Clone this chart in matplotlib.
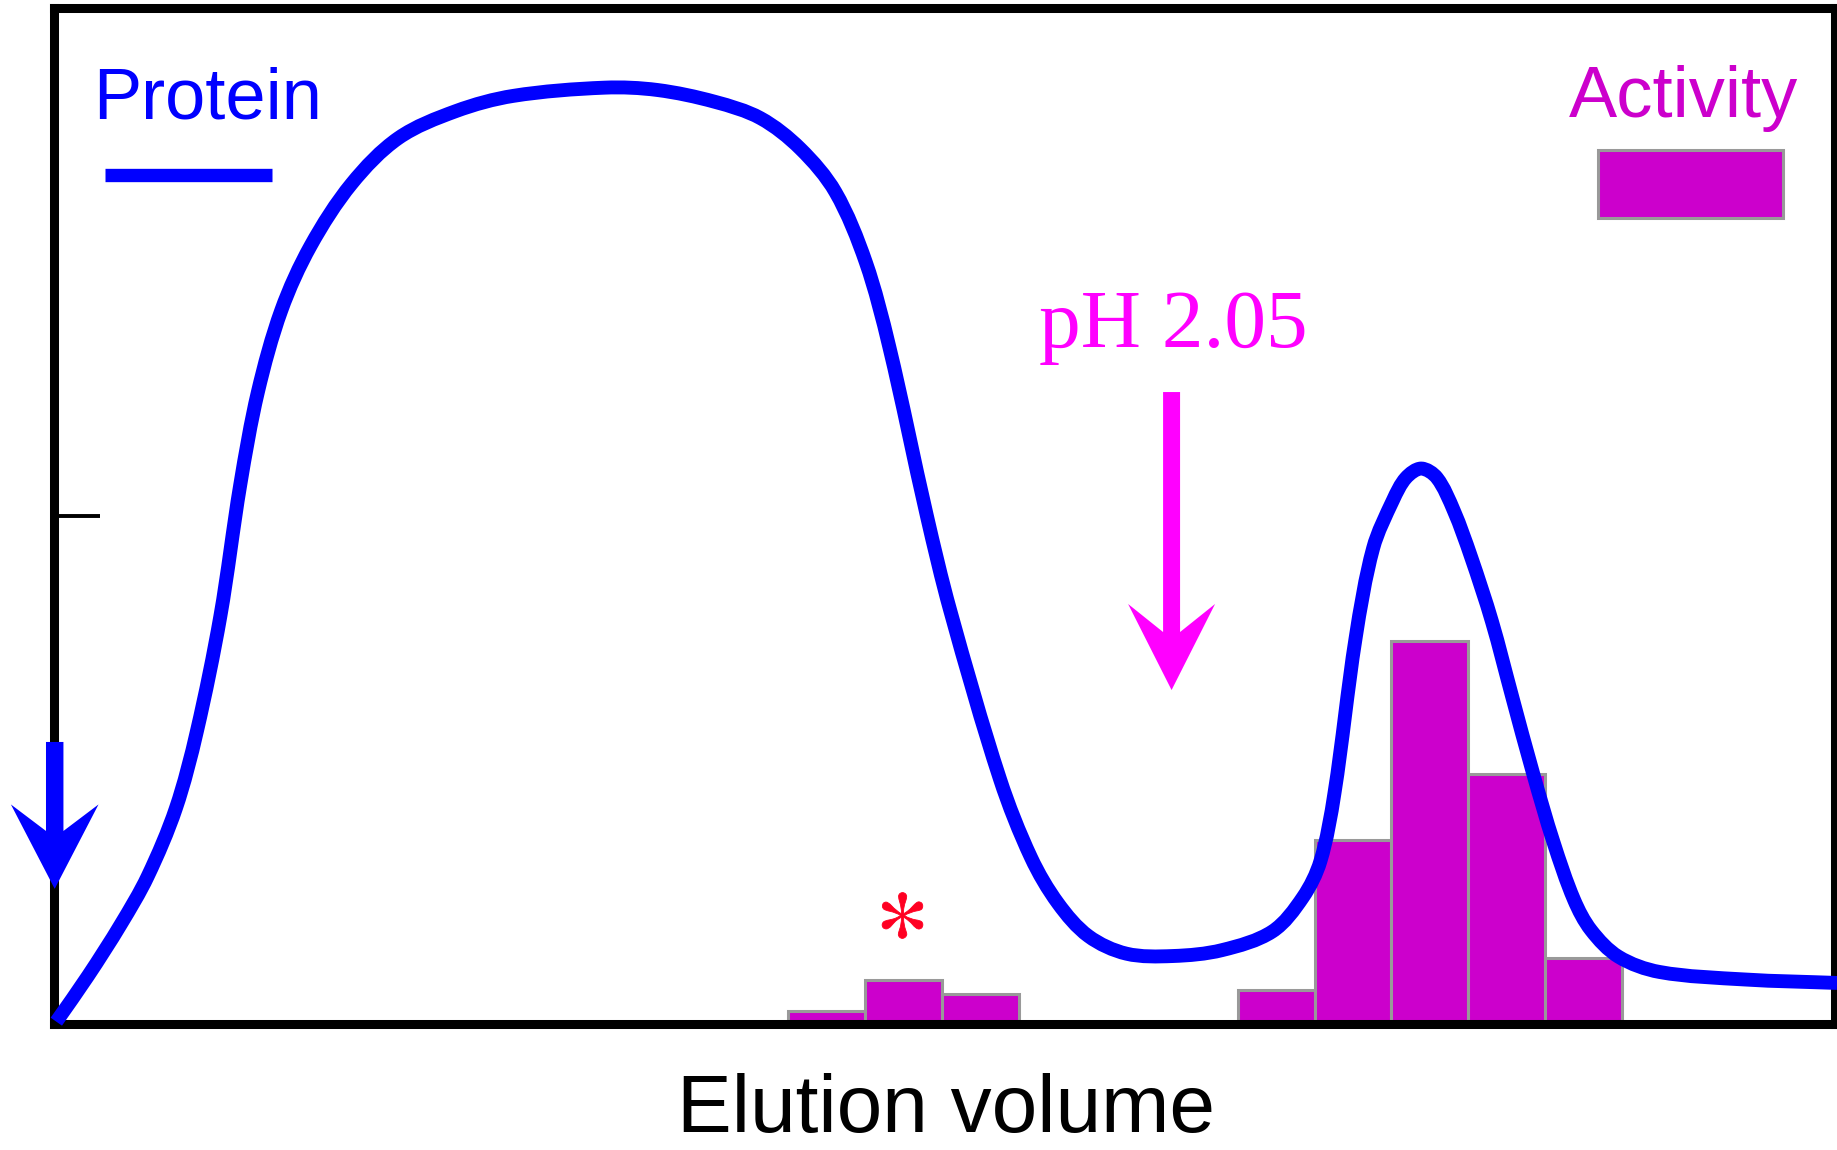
import matplotlib
matplotlib.use("Agg")
import numpy as np
import matplotlib.pyplot as plt
from matplotlib.patches import Polygon, Rectangle, PathPatch
from matplotlib.path import Path
from matplotlib.lines import Line2D

plt.rcParams['font.family'] = ['Liberation Sans', 'DejaVu Sans']
plt.rcParams['mathtext.fontset'] = 'stix'

# ---------------- data ----------------
# Protein elution profile (x: fraction units, y: relative absorbance)
protein_x = [0.03, 0.443, 0.870, 1.221, 1.588, 1.863, 2.168, 2.427, 2.656, 2.962,
             3.344, 3.878, 4.489, 5.237, 5.985, 7.176, 7.863, 8.611, 9.206, 9.725,
             10.183, 10.580, 10.885, 11.374, 11.679, 12.328, 12.733, 13.084, 13.481,
             13.977, 14.580, 15.221, 15.878, 16.275, 16.504, 16.687, 16.962, 17.191,
             17.450, 17.618, 17.817, 18.023, 18.244, 18.466, 18.740, 19.000, 19.275,
             19.542, 19.809, 20.031, 20.389, 20.924, 22.038, 23.237]
protein_y = [0.23, 4.73, 9.80, 14.53, 21.22, 28.84, 40.14, 53.06, 62.17, 70.24,
             76.59, 82.70, 87.20, 89.85, 91.35, 92.16, 91.93, 90.77, 89.16, 86.16,
             81.89, 74.97, 66.67, 50.06, 40.72, 24.11, 16.38, 11.88, 8.65,
             6.92, 6.69, 7.27, 9.11, 12.46, 16.03, 22.72, 37.95, 46.83,
             51.56, 53.75, 54.67, 53.75, 50.50, 46.00, 39.60, 32.30, 24.68,
             17.88, 12.23, 9.23, 6.62, 5.12, 4.38, 4.04]

# Activity per fraction
activity_x = [10.07, 11.07, 12.07, 15.93, 16.93, 17.93, 18.93, 19.93]
activity_h = [1.27, 4.33, 2.93, 3.34, 18.1, 37.7, 24.6, 6.46]

y_tick_values = [50]
asterisk_pos = (11.05, 10.7)

xlabel_text = "Elution volume"
protein_label = "Protein"
activity_label = "Activity"
ph_label = "pH 2.05"

# ---------------- styles ----------------
BLUE = '#0000FF'
BAR = '#CC00CC'
PH = '#FF00FF'
RED = '#FF0022'

W, H = 1837, 1150
fig = plt.figure(figsize=(W / 100, H / 100), dpi=100)
ax_rect = [54 / W, 1 - 1024 / H, (1835 - 54) / W, (1024 - 8) / H]
ax = fig.add_axes(ax_rect)
XMAX, YMAX = 23.21, 100
ax.set_xlim(0, XMAX)
ax.set_ylim(0, YMAX)

ax.bar(activity_x, activity_h, width=1.0, color=BAR, edgecolor='#999999',
       linewidth=2.2, zorder=2)


def smooth_path(xs, ys):
    """Chord-length Hermite (Catmull-Rom style) path through the given points."""
    P = np.column_stack([xs, ys]).astype(float)
    sx = ax_rect[2] * W / XMAX
    sy = ax_rect[3] * H / YMAX
    Q = P * [sx, sy]
    d = np.hypot(*np.diff(Q, axis=0).T)
    t = np.concatenate([[0], np.cumsum(d)])
    n = len(P)
    M = np.zeros_like(P)
    for i in range(n):
        a = max(i - 1, 0)
        b = min(i + 1, n - 1)
        M[i] = (P[b] - P[a]) / (t[b] - t[a])
    verts = [P[0]]
    codes = [Path.MOVETO]
    for i in range(n - 1):
        h = t[i + 1] - t[i]
        verts += [P[i] + M[i] * h / 3, P[i + 1] - M[i + 1] * h / 3, P[i + 1]]
        codes += [Path.CURVE4] * 3
    return Path(verts, codes)


ax.add_patch(PathPatch(smooth_path(protein_x, protein_y), facecolor='none',
                       edgecolor=BLUE, lw=10, joinstyle='round', capstyle='butt',
                       zorder=4, clip_on=False))

for s in ax.spines.values():
    s.set_linewidth(6.5)
    s.set_color('black')
ax.set_xticks([])
ax.set_yticks(y_tick_values)
ax.set_yticklabels([])
ax.set_yticks(y_tick_values, minor=True)
ax.tick_params(axis='y', which='major', direction='in', length=33, width=2.8, color='black')
ax.tick_params(axis='y', which='minor', direction='out', length=7, width=2.8, color='black',
               labelleft=False)

# asterisk
ax.plot([asterisk_pos[0]], [asterisk_pos[1]], marker=r'$*$', markersize=33,
        color=RED, markeredgewidth=0.6, markeredgecolor=RED, linestyle='none', zorder=5)


def down_arrow(xc, y_top, y_wing, y_join, y_tip, hs, hw, color):
    pts = [(xc - hs, y_top), (xc + hs, y_top), (xc + hs, y_join), (xc + hw, y_wing),
           (xc, y_tip), (xc - hw, y_wing), (xc - hs, y_join)]
    ax.add_patch(Polygon(pts, closed=True, facecolor=color, edgecolor='none',
                         transform=ax.transAxes, clip_on=False, zorder=6))


# pH arrow
down_arrow(0.6275, 0.6220, 0.4134, 0.3858, 0.3287, 0.00477, 0.02442, PH)
# blue arrow on the y axis
down_arrow(0.0004, 0.2776, 0.2161, 0.1900, 0.1330, 0.0049, 0.0246, BLUE)

# labels
ax.text(0.6283, 0.6663, ph_label, transform=ax.transAxes, ha='center', va='baseline',
        fontsize=60, color=PH, family=['Liberation Serif', 'DejaVu Serif'])
ax.text(0.0221, 0.8917, protein_label, transform=ax.transAxes, ha='left', va='baseline',
        fontsize=52, color=BLUE)
ax.add_line(Line2D([0.0286, 0.1224], [0.8356, 0.8356], transform=ax.transAxes,
                   color=BLUE, lw=9.6, solid_capstyle='butt'))
ax.text(0.9792, 0.8927, activity_label, transform=ax.transAxes, ha='right', va='baseline',
        fontsize=52, color=BAR)
ax.add_patch(Rectangle((0.8669, 0.7933), 0.1039, 0.0669, transform=ax.transAxes,
                       facecolor=BAR, edgecolor='#999999', lw=2.2))

fig.text(946 / W, 18 / H, xlabel_text, ha='center', va='baseline', fontsize=59,
         color='black')

fig.savefig('out.png', dpi=100)
